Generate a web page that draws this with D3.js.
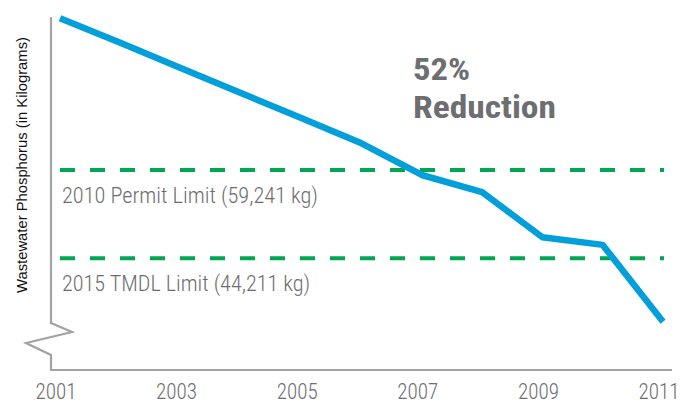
<!DOCTYPE html>
<html>
<head>
<meta charset="utf-8">
<script src="https://cdn.jsdelivr.net/npm/d3@7"></script>
<style>
  html, body { margin: 0; padding: 0; background: #fff; }
  svg { display: block; }
  .cond { font-family: "Liberation Sans Narrow", "Roboto Condensed", "Arial Narrow", Roboto, sans-serif; }
</style>
</head>
<body>
<svg id="chart" width="681" height="403"></svg>
<script>
// ---- data ----
const years = [2001, 2002, 2003, 2004, 2005, 2006, 2007, 2008, 2009, 2010, 2011];
const phosphorusKg = [85100, 80900, 76600, 72350, 68100, 63800, 58400, 55500, 47800, 46500, 33400];
const limitLabels = ["2010 Permit Limit (59,241 kg)", "2015 TMDL Limit (44,211 kg)"];
const limitValues = [59241, 44211];
const tickYears = [2001, 2003, 2005, 2007, 2009, 2011];
const titleLines = ["52%", "Reduction"];
const yAxisTitle = "Wastewater Phosphorus (in Kilograms)";

// ---- layout ----
const svg = d3.select("#chart");
const axisX = 51, axisRight = 672;
const x = d3.scaleLinear().domain([2001, 2011]).range([60, 663]);
const y = d3.scaleLinear().domain([25200, 85300]).range([370, 17]);

const grey = "#a3a3a5";
const textGrey = "#6d6e71";

// axis with break
const yb = y.range()[0];
const axisPath = [
  [axisX, y.range()[1]],
  [axisX, yb - 47],
  [axisX + 21, yb - 38],
  [axisX - 25, yb - 27],
  [axisX, yb - 15],
  [axisX, yb],
  [axisRight, yb]
];
svg.append("path")
  .attr("d", d3.line()(axisPath))
  .attr("fill", "none")
  .attr("stroke", grey)
  .attr("stroke-width", 2.2)
  .attr("stroke-linejoin", "miter");

// x tick labels
const xAxis = d3.axisBottom(x).tickValues(tickYears).tickSize(0).tickFormat(d3.format("d"));
const gx = svg.append("g").attr("transform", `translate(-4.5,${yb + 10})`).call(xAxis);
gx.select(".domain").remove();
gx.selectAll("text")
  .attr("class", "cond")
  .attr("font-size", 22)
  .attr("font-weight", 300)
  .attr("fill", textGrey)
  .attr("dy", "0.71em")
  .attr("textLength", 41)
  .attr("lengthAdjust", "spacingAndGlyphs");

// limit lines
const limits = limitValues.map((v, i) => ({ v, label: limitLabels[i] }));
svg.selectAll(".limit")
  .data(limits)
  .join("line")
  .attr("class", "limit")
  .attr("x1", x(2001))
  .attr("x2", x(2011) + 1)
  .attr("y1", d => y(d.v))
  .attr("y2", d => y(d.v))
  .attr("stroke", "#00a651")
  .attr("stroke-width", 4)
  .attr("stroke-dasharray", "15,15");

svg.selectAll(".limitLabel")
  .data(limits)
  .join("text")
  .attr("class", "limitLabel cond")
  .attr("x", x(2001) + 2)
  .attr("y", d => y(d.v) + 33)
  .attr("font-size", 22)
  .attr("font-weight", 300)
  .attr("fill", textGrey)
  .attr("textLength", (d, i) => i === 0 ? 256 : 248)
  .attr("lengthAdjust", "spacingAndGlyphs")
  .text(d => d.label);

// data line
const pts = years.map((yr, i) => [yr, phosphorusKg[i]]);
svg.append("path")
  .datum(pts)
  .attr("d", d3.line().x(d => x(d[0])).y(d => y(d[1])))
  .attr("fill", "none")
  .attr("stroke", "#039fdb")
  .attr("stroke-width", 6.5)
  .attr("stroke-linejoin", "round");

// headline
svg.selectAll(".headline")
  .data(titleLines)
  .join("text")
  .attr("class", "headline cond")
  .attr("x", 413)
  .attr("y", (d, i) => 80 + i * 38)
  .attr("font-size", 32)
  .attr("font-weight", "bold")
  .attr("fill", textGrey)
  .attr("textLength", (d, i) => i === 0 ? 57 : 143)
  .attr("lengthAdjust", "spacingAndGlyphs")
  .text(d => d);

// y axis title
svg.append("text")
  .attr("transform", "translate(27,165) rotate(-90)")
  .attr("text-anchor", "middle")
  .attr("font-family", "Liberation Sans, Arial, sans-serif")
  .attr("font-size", 14.5)
  .attr("fill", "#111")
  .attr("textLength", 256)
  .attr("lengthAdjust", "spacingAndGlyphs")
  .text(yAxisTitle);
</script>
</body>
</html>
